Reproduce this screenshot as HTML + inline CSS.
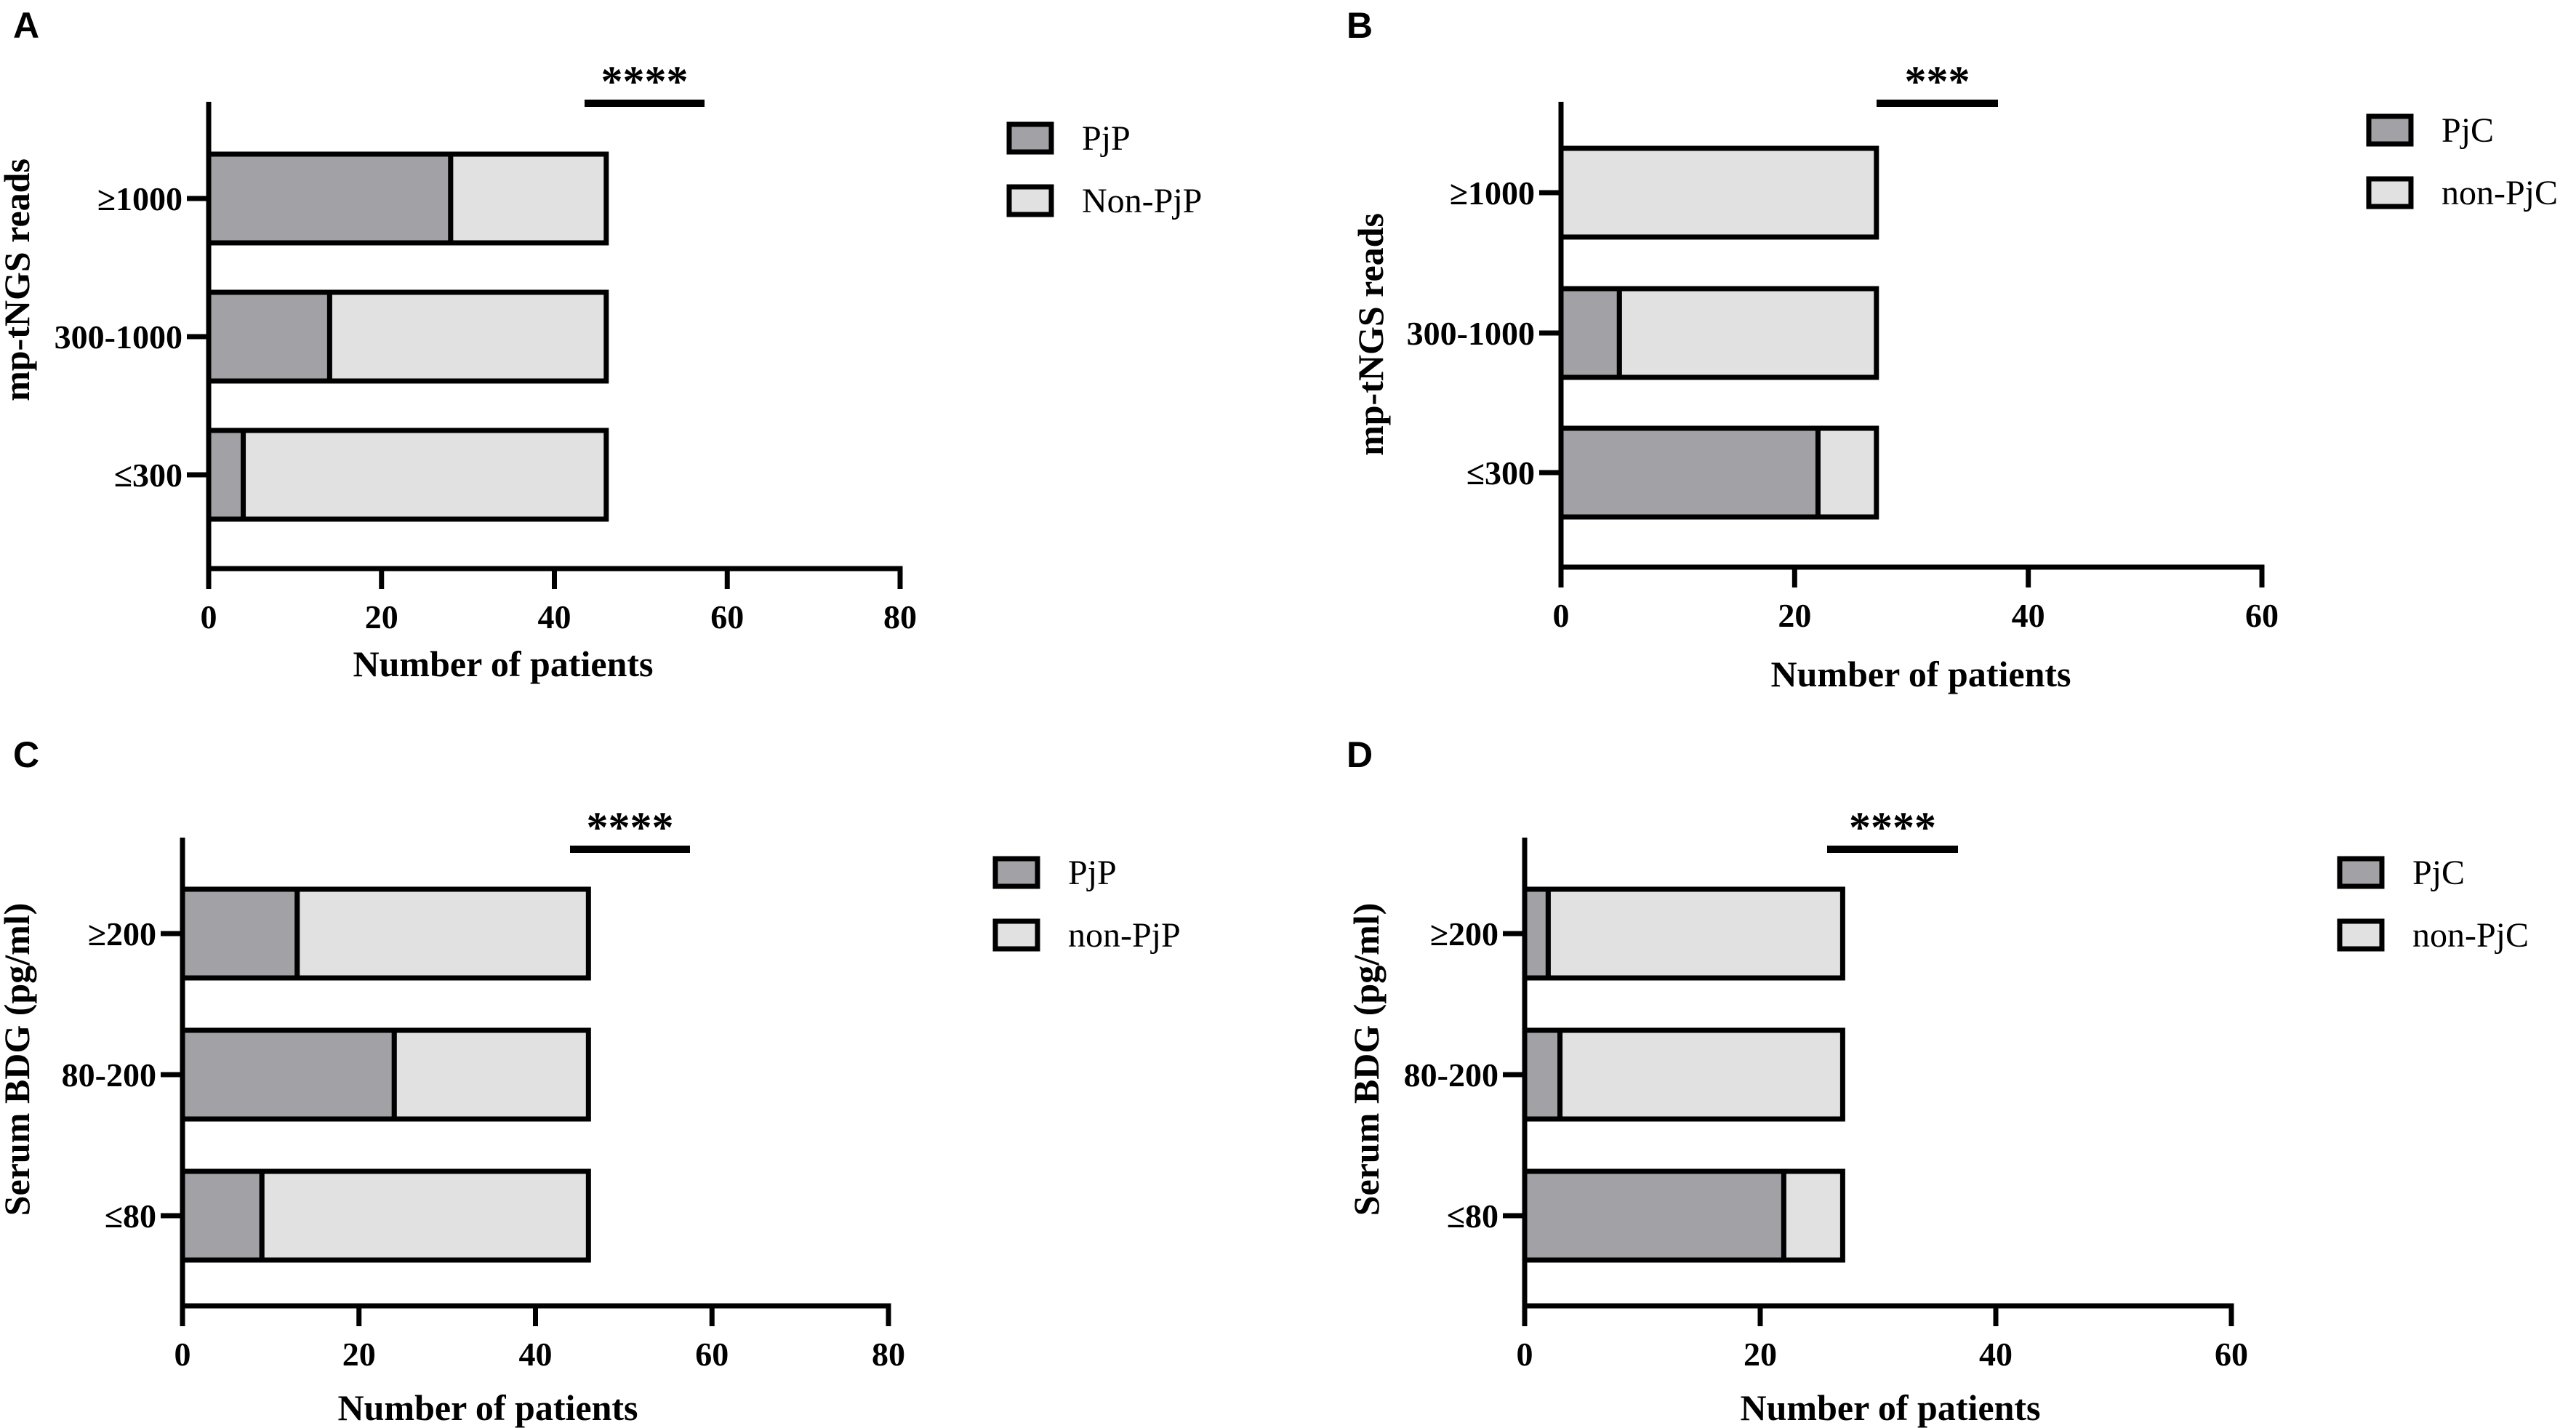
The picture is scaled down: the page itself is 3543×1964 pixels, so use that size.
<!DOCTYPE html>
<html><head><meta charset="utf-8"><style>
html,body{margin:0;padding:0;background:#fff}
svg{display:block}
text{font-family:"Liberation Serif",serif}
</style></head><body>
<svg id="chart" width="3543" height="1964" viewBox="0 0 3543 1964" xmlns="http://www.w3.org/2000/svg"></svg>
<script>
// Panel A
const catsA = ["≥1000","300-1000","≤300"];
const posA = [28,14,4];
const negA = [18,32,42];
const ticksA = [0,20,40,60,80];
// Panel B
const catsB = ["≥1000","300-1000","≤300"];
const posB = [0,5,22];
const negB = [27,22,5];
const ticksB = [0,20,40,60];
// Panel C
const catsC = ["≥200","80-200","≤80"];
const posC = [13,24,9];
const negC = [33,22,37];
const ticksC = [0,20,40,60,80];
// Panel D
const catsD = ["≥200","80-200","≤80"];
const posD = [2,3,22];
const negD = [25,24,5];
const ticksD = [0,20,40,60];

const NS="http://www.w3.org/2000/svg";
const svg=document.getElementById('chart');
function mk(tag,attrs,parent){const e=document.createElementNS(NS,tag);for(const k in attrs)e.setAttribute(k,attrs[k]);(parent||svg).appendChild(e);return e;}

const panels=[
 {id:'a',letter:'A',lx:18,ly:52,x0:287,x1:1238,top:140,axisY:782,centers:[273,463,653],cats:catsA,pos:posA,neg:negA,ticks:ticksA,max:80,
  sig:'****',sx0:804,sx1:969,sy:142,ytitle:'mp-tNGS reads',ytx:40,yty:385,leg:['PjP','Non-PjP'],legX:1388,legY:[190,276],xt:'Number of patients',xtx:692,xty:930},
 {id:'b',letter:'B',lx:1852,ly:52,x0:2147,x1:3111,top:140,axisY:780,centers:[265,458,650],cats:catsB,pos:posB,neg:negB,ticks:ticksB,max:60,
  sig:'***',sx0:2581,sx1:2748,sy:142,ytitle:'mp-tNGS reads',ytx:1902,yty:460,leg:['PjC','non-PjC'],legX:3258,legY:[179,265],xt:'Number of patients',xtx:2642,xty:944},
 {id:'c',letter:'C',lx:18,ly:1055,x0:251,x1:1222,top:1152,axisY:1796,centers:[1284,1478,1672],cats:catsC,pos:posC,neg:negC,ticks:ticksC,max:80,
  sig:'****',sx0:784,sx1:949,sy:1168,ytitle:'Serum BDG (pg/ml)',ytx:40,yty:1457,leg:['PjP','non-PjP'],legX:1369,legY:[1200,1286],xt:'Number of patients',xtx:671,xty:1953},
 {id:'d',letter:'D',lx:1852,ly:1055,x0:2097,x1:3069,top:1152,axisY:1796,centers:[1284,1478,1672],cats:catsD,pos:posD,neg:negD,ticks:ticksD,max:60,
  sig:'****',sx0:2513,sx1:2693,sy:1168,ytitle:'Serum BDG (pg/ml)',ytx:1896,yty:1457,leg:['PjC','non-PjC'],legX:3218,legY:[1200,1286],xt:'Number of patients',xtx:2600,xty:1953}
];
const DARK='#a2a1a5', LIGHT='#e1e1e1', SW=7, BH=122;

panels.forEach(p=>{
  const g=mk('g',{});
  
  
  const sx=v=>p.x0+(v/p.max)*(p.x1-p.x0);
  const L=mk('text',{x:p.lx,y:p.ly,'font-size':50,'font-weight':'bold',style:'font-family:"Liberation Sans",sans-serif'},g);
  L.textContent=p.letter;
  
  
  p.cats.forEach((c,i)=>{
    const cy=p.centers[i];
    const a=p.pos[i], b=p.neg[i];
    const r1=mk('rect',{x:sx(0),y:cy-BH/2,width:sx(a)-sx(0),height:BH,fill:DARK,stroke:'#000','stroke-width':SW},g);
    
    
    const r2=mk('rect',{x:sx(a),y:cy-BH/2,width:sx(a+b)-sx(a),height:BH,fill:LIGHT,stroke:'#000','stroke-width':SW},g);
    
    
    mk('line',{x1:p.x0-30,x2:p.x0,y1:cy,y2:cy,stroke:'#000','stroke-width':SW},g);
    const t=mk('text',{x:p.x0-36,y:cy+16,'font-size':46,'font-weight':'bold','text-anchor':'end'},g);
    t.textContent=c;
    
    
  });
  const ya=mk('line',{x1:p.x0,x2:p.x0,y1:p.top,y2:p.axisY+SW/2,stroke:'#000','stroke-width':SW},g);
  
  
  const xa=mk('line',{x1:p.x0-SW/2,x2:p.x1+SW/2,y1:p.axisY,y2:p.axisY,stroke:'#000','stroke-width':SW},g);
  
  
  p.ticks.forEach(v=>{
    mk('line',{x1:sx(v),x2:sx(v),y1:p.axisY,y2:p.axisY+28,stroke:'#000','stroke-width':SW},g);
    const t=mk('text',{x:sx(v),y:p.axisY+82,'font-size':46,'font-weight':'bold','text-anchor':'middle'},g);
    t.textContent=v;
    
    
  });
  const xt=mk('text',{x:p.xtx,y:p.xty,'font-size':50,'font-weight':'bold','text-anchor':'middle'},g);
  xt.textContent=p.xt;
  
  
  const yt=mk('text',{x:0,y:0,'font-size':50,'font-weight':'bold','text-anchor':'middle',transform:`translate(${p.ytx},${p.yty}) rotate(-90)`},g);
  yt.textContent=p.ytitle;
  
  
  const sl=mk('line',{x1:p.sx0,x2:p.sx1,y1:p.sy,y2:p.sy,stroke:'#000','stroke-width':10},g);
  
  
  const st=mk('text',{x:(p.sx0+p.sx1)/2,y:p.sy-10,'font-size':60,'font-weight':'bold','text-anchor':'middle'},g);
  st.textContent=p.sig;
  
  
  p.leg.forEach((name,i)=>{
    const ly=p.legY[i];
    const r=mk('rect',{x:p.legX,y:ly-19,width:58,height:38,fill:i?LIGHT:DARK,stroke:'#000','stroke-width':SW},g);
    
    
    const t=mk('text',{x:p.legX+100,y:ly+16,'font-size':48},g);
    t.textContent=name;
    
    
  });
});
</script>
</body></html>
